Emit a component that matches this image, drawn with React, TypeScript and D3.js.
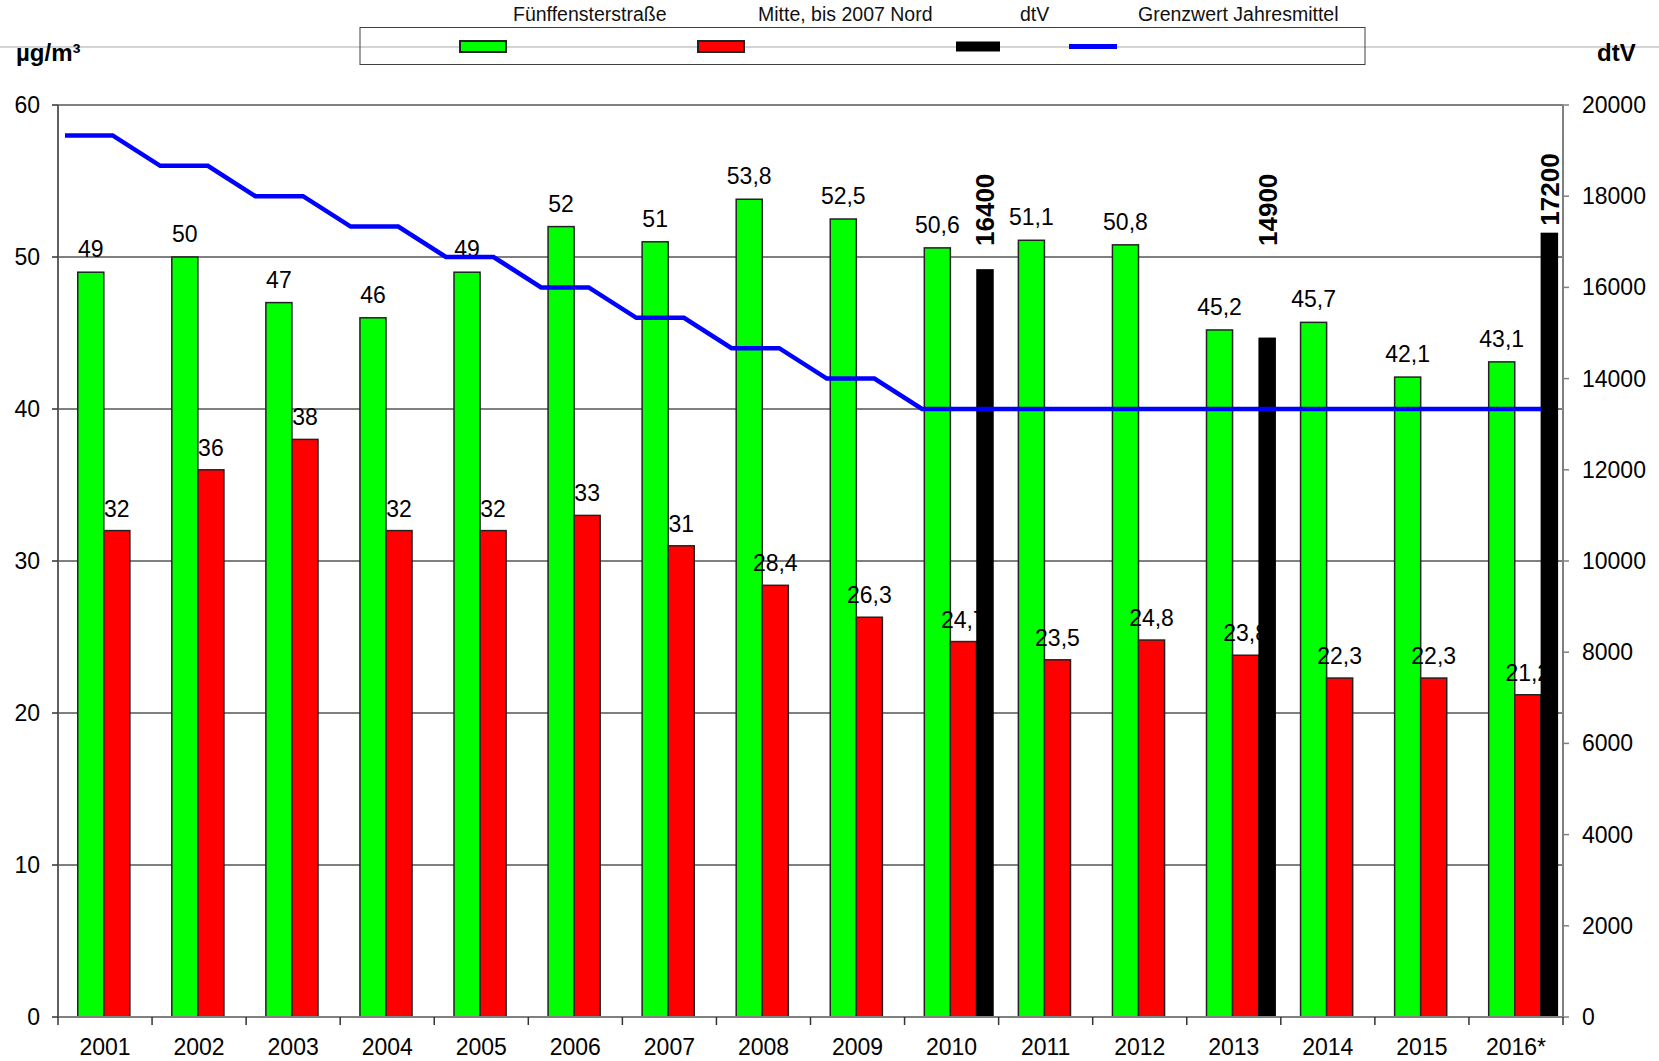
import React from 'react';
import * as d3 from 'd3';

// Jahresmittelwerte NO2 (µg/m³) und Verkehrsstärke (dtV)
const years = ['2001', '2002', '2003', '2004', '2005', '2006', '2007', '2008', '2009', '2010', '2011', '2012', '2013', '2014', '2015', '2016*'];
const fuenffenster = [49, 50, 47, 46, 49, 52, 51, 53.8, 52.5, 50.6, 51.1, 50.8, 45.2, 45.7, 42.1, 43.1];
const mitte = [32, 36, 38, 32, 32, 33, 31, 28.4, 26.3, 24.7, 23.5, 24.8, 23.8, 22.3, 22.3, 21.2];
const dtv: (number | null)[] = [null, null, null, null, null, null, null, null, null, 16400, null, null, 14900, null, null, 17200];
const grenzwert = [58, 56, 54, 52, 50, 48, 46, 44, 42, 40, 40, 40, 40, 40, 40, 40];

const leftTicks = [0, 10, 20, 30, 40, 50, 60];
const rightTicks = [0, 2000, 4000, 6000, 8000, 10000, 12000, 14000, 16000, 18000, 20000];

const legendItems = [
  { label: 'Fünffensterstraße', color: '#00ff00', kind: 'bar' },
  { label: 'Mitte, bis 2007 Nord', color: '#ff0000', kind: 'bar' },
  { label: 'dtV', color: '#000000', kind: 'solid' },
  { label: 'Grenzwert Jahresmittel', color: '#0000ff', kind: 'line' },
];

const W = 1659;
const H = 1061;
const left = 58;
const right = 1563;
const top = 105;
const bottom = 1017;
const font = "'Liberation Sans', Arial, sans-serif";

const fmt = (v: number) => String(v).replace('.', ',');

export default function App() {
  const x = d3.scaleBand().domain(years).range([left, right]);
  const bw = x.bandwidth();
  const yL = d3.scaleLinear().domain([0, 60]).range([bottom, top]);
  const yR = d3.scaleLinear().domain([0, 20000]).range([bottom, top]);

  // bar slots inside each year
  const greenX = (y: string) => (x(y) as number) + bw * 0.21;
  const redX = (y: string) => (x(y) as number) + bw * 0.487;
  const blackX = (y: string) => (x(y) as number) + bw * 0.762;
  const wide = bw * 0.277;
  const narrow = bw * 0.186;

  // the limit line runs on its own half-year positions
  const xl = d3.scaleLinear().domain([0, years.length * 2 - 1]).range([left + 7, right - 22]);
  const linePts: [number, number][] = [];
  grenzwert.forEach((v, i) => {
    linePts.push([xl(i * 2), yL(v)]);
    linePts.push([xl(i * 2 + 1), yL(v)]);
  });
  const line = d3.line();

  const legendX = [513, 758, 1020, 1138];
  const symbolX = [460, 698, 956, 1069];

  return (
    <svg width={W} height={H} style={{ position: 'absolute', left: 0, top: 0, background: '#fff' }} fontFamily={font}>
      <rect x={0} y={0} width={W} height={H} fill="#fff" />

      {/* legend */}
      <line x1={0} x2={W} y1={47} y2={47} stroke="#d4d4d4" strokeWidth={2} />
      <rect x={360} y={27.5} width={1005} height={37} fill="none" stroke="#404040" strokeWidth={1} />
      {legendItems.map((d, i) => (
        <g key={d.label}>
          <text x={legendX[i]} y={21} fontSize={19.5} fill="#111">{d.label}</text>
          {d.kind === 'bar' && (
            <rect x={symbolX[i]} y={41} width={46} height={11} fill={d.color} stroke="#222" strokeWidth={2} />
          )}
          {d.kind === 'solid' && <rect x={symbolX[i]} y={41.5} width={44} height={10} fill={d.color} />}
          {d.kind === 'line' && (
            <line x1={symbolX[i]} x2={symbolX[i] + 48} y1={46.5} y2={46.5} stroke={d.color} strokeWidth={5} />
          )}
        </g>
      ))}

      {/* axis titles */}
      <text x={16} y={61} fontSize={24} fontWeight="bold">µg/m³</text>
      <text x={1597} y={61} fontSize={24} fontWeight="bold">dtV</text>

      {/* gridlines */}
      {leftTicks.filter((t) => t > 0 && t < 60).map((t) => (
        <line key={t} x1={left} x2={right} y1={yL(t)} y2={yL(t)} stroke="#000" strokeWidth={1} />
      ))}

      {/* green + red bars */}
      {years.map((yr, i) => (
        <g key={yr}>
          <rect x={greenX(yr)} y={yL(fuenffenster[i])} width={wide} height={bottom - yL(fuenffenster[i])}
            fill="#00ff00" stroke="#222" strokeWidth={1.5} />
          <rect x={redX(yr)} y={yL(mitte[i])} width={wide} height={bottom - yL(mitte[i])}
            fill="#ff0000" stroke="#222" strokeWidth={1.5} />
        </g>
      ))}

      {/* value labels */}
      {years.map((yr, i) => (
        <g key={'l' + yr} fontSize={23} textAnchor="middle" fill="#000">
          <text x={greenX(yr) + wide / 2} y={yL(fuenffenster[i]) - 15}>{fmt(fuenffenster[i])}</text>
          <text x={redX(yr) + wide / 2} y={yL(mitte[i]) - 14}>{fmt(mitte[i])}</text>
        </g>
      ))}

      {/* dtV bars */}
      {years.map((yr, i) => {
        const v = dtv[i];
        if (v == null) return null;
        const cx = blackX(yr) + narrow / 2;
        const ly = Math.min(yR(v) - 7, 246);
        return (
          <g key={'d' + yr}>
            <rect x={blackX(yr)} y={yR(v)} width={narrow} height={bottom - yR(v)} fill="#000" />
            <text transform={`translate(${cx + 9.5},${ly}) rotate(-90)`} fontSize={26} fontWeight="bold">{v}</text>
          </g>
        );
      })}

      {/* limit line */}
      <path d={line(linePts) || ''} fill="none" stroke="#0000ff" strokeWidth={4.5} strokeLinejoin="miter" />

      {/* axes frame */}
      <line x1={left} x2={right} y1={top} y2={top} stroke="#808080" strokeWidth={2} />
      <line x1={left} x2={right} y1={bottom} y2={bottom} stroke="#808080" strokeWidth={2} />
      <line x1={left} x2={left} y1={top} y2={bottom} stroke="#606060" strokeWidth={2} />
      <line x1={right} x2={right} y1={top} y2={bottom} stroke="#808080" strokeWidth={2} />

      {/* left axis */}
      {leftTicks.map((t) => (
        <g key={'lt' + t}>
          <line x1={left - 6} x2={left} y1={yL(t)} y2={yL(t)} stroke="#333" strokeWidth={1.5} />
          <text x={40} y={yL(t)} dy="0.35em" textAnchor="end" fontSize={23}>{t}</text>
        </g>
      ))}

      {/* right axis */}
      {rightTicks.map((t) => (
        <g key={'rt' + t}>
          <line x1={right} x2={right + 6} y1={yR(t)} y2={yR(t)} stroke="#808080" strokeWidth={1.5} />
          <text x={1582} y={yR(t)} dy="0.35em" fontSize={23}>{t}</text>
        </g>
      ))}

      {/* bottom axis */}
      {years.map((yr) => (
        <line key={'bt' + yr} x1={x(yr) as number} x2={x(yr) as number} y1={bottom} y2={bottom + 8} stroke="#333" strokeWidth={1.5} />
      ))}
      <line x1={right} x2={right} y1={bottom} y2={bottom + 8} stroke="#333" strokeWidth={1.5} />
      {years.map((yr) => (
        <text key={'yl' + yr} x={(x(yr) as number) + bw / 2} y={1055} textAnchor="middle" fontSize={23}>{yr}</text>
      ))}
    </svg>
  );
}
